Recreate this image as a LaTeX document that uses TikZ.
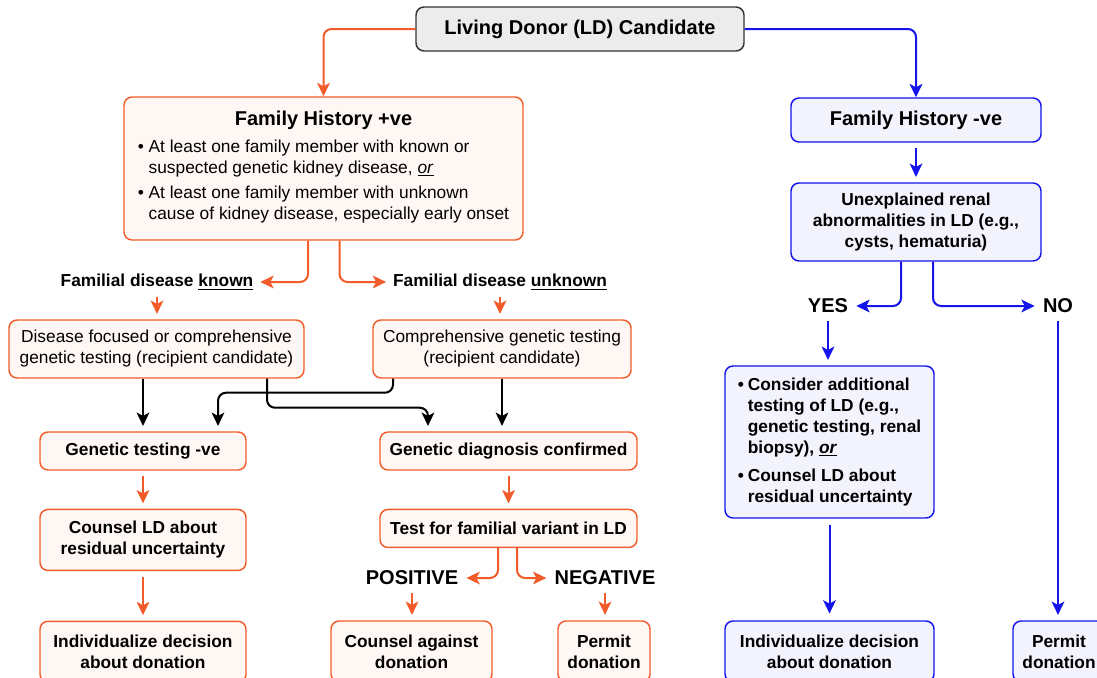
\documentclass[tikz,border=0pt]{standalone}
\usepackage{fontspec}
\setmainfont{Liberation Sans}
\usetikzlibrary{positioning,arrows.meta}
\definecolor{orng}{RGB}{242,92,42}
\definecolor{orngfill}{RGB}{255,247,244}
\definecolor{blu}{RGB}{20,20,235}
\definecolor{blufill}{RGB}{243,243,254}
\definecolor{startfill}{RGB}{236,236,236}
\newcommand{\hd}{\fontsize{15}{18}\selectfont\bfseries}

\begin{document}
\begin{tikzpicture}[
  x=0.75pt, y=-0.75pt,
  font=\fontsize{13}{15.75}\selectfont,
  box/.style={draw,rounded corners=6pt,line width=1.1pt,align=center,inner sep=2pt},
  obox/.style={box,draw=orng,fill=orngfill},
  bbox/.style={box,draw=blu,fill=blufill},
  sbox/.style={box,draw=black!80,fill=startfill},
  bf/.style={font=\fontsize{13}{15.75}\selectfont\bfseries},
  lbl/.style={bf,inner sep=5pt},
  dec/.style={font=\hd,inner sep=6pt},
  arr/.style={line width=1.5pt,rounded corners=6pt,-{Stealth[length=10pt,width=9.5pt,inset=2.5pt]}},
  oarr/.style={arr,draw=orng},
  barr/.style={arr,draw=blu},
  karr/.style={arr,draw=black}
]
\useasboundingbox (0,0) rectangle (1097,678);

\node[sbox,minimum width=246pt,minimum height=33pt,font=\hd] (ld) at (580,29) {Living Donor (LD) Candidate};

\node[obox,minimum width=299.25pt,minimum height=107.25pt] (fhp) at (323.5,168.5) {{\hd Family History +ve}\\[5pt]
  \begin{tabular}{@{}l@{\hspace{3.5pt}}l@{}}
  \textbullet & At least one family member with known or\\
  & suspected genetic kidney disease, \underline{\textit{or}}\\[3pt]
  \textbullet & At least one family member with unknown\\
  & cause of kidney disease, especially early onset
  \end{tabular}};
\node[lbl] (known) at (157,282) {Familial disease \underline{known}};
\node[lbl] (unknown) at (500,282) {Familial disease \underline{unknown}};
\node[obox,minimum width=221.25pt,minimum height=43.5pt] (dfoc) at (156.5,349) {Disease focused or comprehensive\\genetic testing (recipient candidate)};
\node[obox,minimum width=193.5pt,minimum height=43.5pt] (comp) at (502,349) {Comprehensive genetic testing\\(recipient candidate)};
\node[obox,bf,minimum width=154.5pt,minimum height=28.5pt] (gneg) at (143,451) {Genetic testing -ve};
\node[obox,bf,minimum width=154.5pt,minimum height=45.75pt,below=28.5pt of gneg] (cnsl) {Counsel LD about\\residual uncertainty};
\node[obox,bf,minimum width=154.5pt,minimum height=45.75pt,below=37pt of cnsl] (indl) {Individualize decision\\about donation};
\node[obox,bf,minimum width=192.75pt,minimum height=28.5pt] (gdiag) at (508.5,451) {Genetic diagnosis confirmed};
\node[obox,bf,minimum width=192.75pt,minimum height=28.5pt,below=28.5pt of gdiag] (ftest) {Test for familial variant in LD};
\node[dec] (pos) at (412,578) {POSITIVE};
\node[dec] (neg) at (605,578) {NEGATIVE};
\node[obox,bf,minimum width=120.75pt,minimum height=45.75pt] (against) at (411.5,651.5) {Counsel against\\donation};
\node[obox,bf,minimum width=69pt,minimum height=45.75pt] (permitl) at (604,651.5) {Permit\\donation};

\node[bbox,minimum width=187.5pt,minimum height=33pt,font=\hd] (fhn) at (916,120) {Family History -ve};
\node[bbox,bf,minimum width=187.5pt,minimum height=58.5pt] (unexp) at (916,222) {Unexplained renal\\abnormalities in LD (e.g.,\\cysts, hematuria)};
\node[dec] (yes) at (828,306) {YES};
\node[dec] (no) at (1058,306) {NO};
\node[bbox,bf,minimum width=156.75pt,minimum height=114pt] (consider) at (829.5,442) {\begin{tabular}{@{}l@{\hspace{3pt}}l@{}}
  \textbullet & Consider additional\\
  & testing of LD (e.g.,\\
  & genetic testing, renal\\
  & biopsy), \underline{\textit{or}}\\[5pt]
  \textbullet & Counsel LD about\\
  & residual uncertainty
  \end{tabular}};
\node[bbox,bf,minimum width=156.75pt,minimum height=45.75pt] (indr) at (829.5,651.5) {Individualize decision\\about donation};
\node[bbox,bf,minimum width=69pt,minimum height=45.75pt] (permitr) at (1059,651.5) {Permit\\donation};

\draw[oarr] (ld.west) -| (fhp.north);
\draw[barr] (ld.east) -| (fhn.north);
\draw[oarr] (fhp.south) ++(-15.5,0) |- (known.east);
\draw[oarr] (fhp.south) ++(16,0) |- (unknown.west);
\path (known) edge[oarr,shorten >=4pt] (known |- dfoc.north)
      (unknown) edge[oarr,shorten >=4pt] (unknown |- comp.north);
\draw[karr,shorten >=4pt] (gneg.north |- dfoc.south) -- (gneg.north);
\draw[karr,shorten >=4pt] (comp.south) -- (comp.south |- gdiag.north);
\draw[karr,shorten >=4pt] (dfoc.south) ++(110.5,0) -- ++(0,29) -| ([xshift=-60.4pt]gdiag.north);
\draw[karr,shorten >=4pt] (comp.south) ++(-109,0) -- ++(0,14) -| ([xshift=56.25pt]gneg.north);
\path (gneg) edge[oarr,shorten <=4pt,shorten >=4pt] (cnsl)
      (cnsl) edge[oarr,shorten <=4pt,shorten >=4pt] (indl)
      (gdiag) edge[oarr,shorten <=4pt,shorten >=4pt] (ftest);
\draw[oarr] (ftest.south) ++(-10.5,0) |- (pos.east);
\draw[oarr] (ftest.south) ++(8.5,0) |- (neg.west);
\path (pos) edge[oarr,shorten >=4pt] (pos |- against.north)
      (neg) edge[oarr,shorten >=4pt] (neg |- permitl.north);

\path (fhn) edge[barr,shorten <=4pt,shorten >=4pt] (unexp);
\draw[barr] (unexp.south) ++(-15,0) |- (yes.east);
\draw[barr] (unexp.south) ++(17,0) |- (no.west);
\path (yes) edge[barr,shorten >=4pt] (yes |- consider.north)
      (consider) edge[barr,shorten <=5pt,shorten >=5pt] (indr)
      (no) edge[barr,shorten >=4pt] (no |- permitr.north);
\end{tikzpicture}
\end{document}
